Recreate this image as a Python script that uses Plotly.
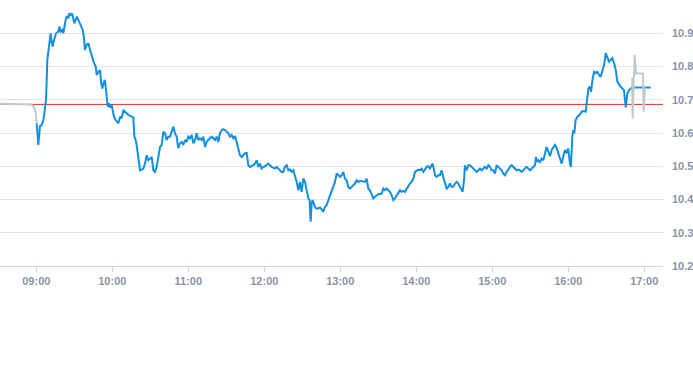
import pandas as pd
import plotly.graph_objects as go

# minutes after 09:00 and prices
blue_min = [0.3, 1.6, 2.9, 4.2, 5.6, 6.9, 7.7, 8.7, 10.0, 11.3, 12.1, 12.9, 14.0, 15.6, 17.4, 18.2, 19.2, 20.6, 21.3, 22.7,
            23.4, 24.5, 25.3, 26.1, 27.1, 28.2, 29.2, 30.0, 31.1, 31.9, 33.2, 34.5, 35.8, 36.6, 37.7, 38.4, 39.8, 41.1, 42.4, 43.7,
            44.5, 45.6, 46.9, 47.7, 49.0, 50.3, 51.1, 52.1, 53.4, 54.2, 55.6, 56.3, 57.4, 58.2, 59.5, 60.3, 61.3, 62.7, 64.8, 66.1,
            67.4, 68.7, 70.0, 72.7, 75.3, 76.6, 77.4, 78.5, 79.2, 80.6, 81.9, 83.2, 84.5, 85.8, 87.1, 88.4, 89.8, 91.1, 92.4, 93.7,
            95.0, 96.3, 97.7, 99.0, 100.3, 101.6, 102.9, 104.2, 105.6, 106.9, 108.2, 109.5, 110.8, 112.1, 113.4, 114.8, 116.1, 117.4, 118.7, 120.0,
            121.3, 122.7, 124.0, 125.3, 126.6, 127.9, 129.2, 130.6, 131.9, 133.2, 134.5, 135.8, 137.1, 138.4, 139.8, 141.1, 142.4, 143.7, 145.0, 146.3,
            147.7, 149.0, 150.3, 151.6, 152.9, 154.2, 155.6, 156.9, 158.2, 159.5, 160.8, 162.1, 163.4, 164.8, 166.1, 167.4, 168.7, 170.0, 171.3, 172.7,
            174.0, 175.3, 176.6, 177.9, 179.2, 180.6, 183.2, 184.5, 185.8, 188.4, 189.8, 191.1, 192.4, 193.7, 195.0, 196.3, 197.7, 199.0, 200.3, 201.6,
            202.9, 204.2, 205.6, 206.9, 208.2, 209.5, 210.8, 212.1, 213.4, 214.8, 215.8, 216.6, 217.4, 218.2, 219.5, 220.8, 222.7, 224.0, 225.3, 226.6,
            227.9, 229.2, 230.6, 231.9, 233.2, 234.5, 235.8, 237.1, 238.4, 239.8, 241.1, 242.4, 243.7, 245.0, 246.3, 247.7, 249.0, 250.3, 251.6, 252.9,
            254.2, 255.6, 258.2, 259.5, 260.8, 262.1, 263.4, 264.8, 266.1, 267.4, 268.7, 270.0, 272.7, 274.0, 275.3, 276.6, 277.9, 279.2, 280.6, 281.9,
            283.2, 284.5, 285.8, 287.1, 288.4, 289.8, 291.1, 292.4, 293.7, 295.0, 296.3, 297.7, 299.0, 300.3, 301.6, 302.9, 304.2, 305.6, 306.9, 308.2,
            309.5, 310.8, 312.1, 312.9, 314.0, 314.8, 316.1, 317.4, 318.7, 320.0, 321.3, 322.7, 324.0, 325.3, 326.6, 327.9, 329.2, 330.6, 331.9, 333.2,
            334.5, 335.8, 336.6, 337.7, 338.4, 339.8, 341.1, 342.4, 343.7, 345.0, 346.3, 347.7, 349.0, 350.3, 351.6, 352.9, 354.2, 355.6, 356.9, 358.2,
            359.5, 360.8, 362.1, 363.4, 364.8, 366.1, 367.4, 368.7, 370.0, 371.3, 372.7, 374.0, 375.3, 376.6, 377.9, 379.2, 380.6, 381.9, 383.2, 384.5,
            385.8, 387.1, 388.4, 389.8, 391.1, 392.4, 393.7, 394.5, 395.6, 396.4, 397.7, 399.0, 400.3, 402.9, 404.2, 405.6, 406.9, 409.5, 410.8, 412.1,
            413.4, 414.8, 416.1, 417.4, 418.7, 420.0, 421.3, 422.1, 423.2, 424.0, 424.8, 425.8, 427.2, 428.8, 430.6, 432.4, 433.8, 435.1, 435.9, 437.2,
            438.0, 439.3, 440.4, 441.7, 443.0, 444.3, 445.6, 447.0, 448.3, 449.6, 450.9, 452.2, 453.5, 454.8, 456.2, 457.5, 458.8, 460.1, 461.4, 462.7,
            464.0, 465.4, 466.7, 468.0, 469.3, 470.4, 485.1]
blue_val = [10.629, 10.564, 10.621, 10.624, 10.639, 10.679, 10.699, 10.820, 10.860, 10.900, 10.875, 10.860, 10.880, 10.900, 10.905, 10.920, 10.905, 10.910, 10.900, 10.925,
            10.945, 10.952, 10.945, 10.960, 10.955, 10.960, 10.945, 10.930, 10.940, 10.950, 10.940, 10.928, 10.915, 10.910, 10.885, 10.850, 10.865, 10.870, 10.850, 10.835,
            10.820, 10.810, 10.800, 10.774, 10.784, 10.789, 10.754, 10.734, 10.754, 10.759, 10.709, 10.679, 10.689, 10.679, 10.684, 10.669, 10.649, 10.639, 10.629, 10.649,
            10.644, 10.669, 10.664, 10.654, 10.649, 10.647, 10.589, 10.579, 10.564, 10.528, 10.488, 10.490, 10.493, 10.508, 10.533, 10.518, 10.523, 10.528, 10.488, 10.483,
            10.498, 10.528, 10.558, 10.564, 10.604, 10.599, 10.579, 10.589, 10.589, 10.604, 10.619, 10.599, 10.589, 10.554, 10.569, 10.573, 10.564, 10.579, 10.573, 10.589,
            10.584, 10.594, 10.569, 10.579, 10.599, 10.579, 10.584, 10.579, 10.589, 10.558, 10.573, 10.579, 10.584, 10.589, 10.584, 10.579, 10.589, 10.573, 10.599, 10.609,
            10.611, 10.609, 10.604, 10.599, 10.589, 10.594, 10.584, 10.591, 10.573, 10.554, 10.533, 10.528, 10.533, 10.539, 10.540, 10.503, 10.498, 10.500, 10.503, 10.508,
            10.518, 10.498, 10.508, 10.493, 10.498, 10.500, 10.508, 10.503, 10.498, 10.493, 10.498, 10.493, 10.488, 10.483, 10.483, 10.498, 10.503, 10.488, 10.490, 10.483,
            10.488, 10.473, 10.453, 10.428, 10.453, 10.423, 10.463, 10.453, 10.423, 10.403, 10.398, 10.333, 10.388, 10.398, 10.383, 10.373, 10.373, 10.376, 10.370, 10.363,
            10.378, 10.383, 10.398, 10.413, 10.428, 10.438, 10.453, 10.478, 10.473, 10.468, 10.473, 10.483, 10.463, 10.458, 10.438, 10.433, 10.438, 10.443, 10.448, 10.458,
            10.453, 10.456, 10.453, 10.453, 10.463, 10.433, 10.428, 10.413, 10.403, 10.408, 10.413, 10.416, 10.418, 10.433, 10.428, 10.433, 10.428, 10.423, 10.413, 10.398,
            10.403, 10.413, 10.423, 10.428, 10.423, 10.426, 10.423, 10.433, 10.438, 10.448, 10.453, 10.463, 10.483, 10.488, 10.490, 10.488, 10.493, 10.483, 10.493, 10.498,
            10.500, 10.493, 10.503, 10.508, 10.488, 10.473, 10.468, 10.473, 10.473, 10.488, 10.468, 10.453, 10.433, 10.438, 10.448, 10.438, 10.438, 10.448, 10.453, 10.448,
            10.438, 10.428, 10.423, 10.458, 10.503, 10.488, 10.503, 10.503, 10.498, 10.493, 10.488, 10.483, 10.488, 10.493, 10.488, 10.493, 10.498, 10.493, 10.503, 10.498,
            10.488, 10.488, 10.478, 10.503, 10.498, 10.493, 10.488, 10.478, 10.473, 10.483, 10.493, 10.498, 10.503, 10.498, 10.493, 10.488, 10.490, 10.488, 10.483, 10.488,
            10.493, 10.498, 10.493, 10.488, 10.493, 10.498, 10.503, 10.528, 10.513, 10.518, 10.513, 10.523, 10.518, 10.558, 10.542, 10.530, 10.549, 10.564, 10.555, 10.539,
            10.524, 10.508, 10.530, 10.549, 10.539, 10.554, 10.509, 10.498, 10.589, 10.609, 10.599, 10.639, 10.649, 10.654, 10.664, 10.666, 10.664, 10.714, 10.734, 10.739,
            10.724, 10.764, 10.784, 10.780, 10.784, 10.774, 10.769, 10.789, 10.805, 10.840, 10.825, 10.814, 10.820, 10.825, 10.810, 10.789, 10.754, 10.744, 10.739, 10.734,
            10.729, 10.677, 10.719, 10.729, 10.734, 10.737, 10.737]

pre_min = [-28.7, -4.3, -2.3, -1.0, -0.3, 0.3]
pre_val = [10.688, 10.686, 10.681, 10.669, 10.654, 10.629]

post_min = [470.5, 470.8, 472.4, 473.5, 479.0, 479.5, 480.6]
post_val = [10.767, 10.644, 10.835, 10.779, 10.779, 10.664, 10.737]

prev_close = 10.686
tick_hours = ["09:00", "10:00", "11:00", "12:00", "13:00", "14:00", "15:00", "16:00", "17:00"]
y_ticks = [10.2, 10.3, 10.4, 10.5, 10.6, 10.7, 10.8, 10.9]

day = "2024-01-02"
base = pd.Timestamp(f"{day} 09:00")


def to_time(mins):
    return base + pd.to_timedelta(mins, unit="m")


fig = go.Figure()
fig.add_trace(go.Scatter(x=to_time(blue_min), y=blue_val, mode="lines",
                         line=dict(color="#128fe0", width=2), hoverinfo="skip"))
fig.add_trace(go.Scatter(x=to_time(pre_min), y=pre_val, mode="lines",
                         line=dict(color="#c2c8cd", width=2), hoverinfo="skip"))
fig.add_trace(go.Scatter(x=to_time(post_min), y=post_val, mode="lines",
                         line=dict(color="#c2c8cd", width=2), hoverinfo="skip"))

fig.add_shape(type="line", xref="paper", x0=0, x1=1, yref="y", y0=prev_close, y1=prev_close,
              line=dict(color="#d9302a", width=1), layer="below")

tick_vals = [pd.Timestamp(f"{day} {h}") for h in tick_hours]
label_font = dict(family="Liberation Sans, Arial, sans-serif", size=11, color="#8a94a2", weight="bold")

fig.update_layout(
    width=693, height=365,
    margin=dict(l=0, r=30, t=0, b=99, autoexpand=False),
    paper_bgcolor="white", plot_bgcolor="white",
    showlegend=False,
    xaxis=dict(
        type="date",
        range=[pd.Timestamp(f"{day} 08:31:20"), pd.Timestamp(f"{day} 17:14:48")],
        tickvals=tick_vals, ticktext=tick_hours,
        showgrid=False, zeroline=False,
        showline=True, linecolor="#ccd6eb", linewidth=1,
        ticks="outside", ticklen=5, tickcolor="#ccd6eb",
        tickfont=label_font, automargin=False,
    ),
    yaxis=dict(
        side="right",
        range=[10.2, 11.0],
        tickvals=y_ticks, ticktext=[f"{v:.1f}" for v in y_ticks],
        showgrid=True, gridcolor="#e6e6e6", gridwidth=1,
        zeroline=False, showline=False,
        ticks="", ticklabelstandoff=8,
        tickfont=label_font, automargin=False,
    ),
)

fig.write_html("out.html", config={"displayModeBar": False, "staticPlot": True},
               post_script="document.body.style.margin='0';document.body.style.padding='0';")
